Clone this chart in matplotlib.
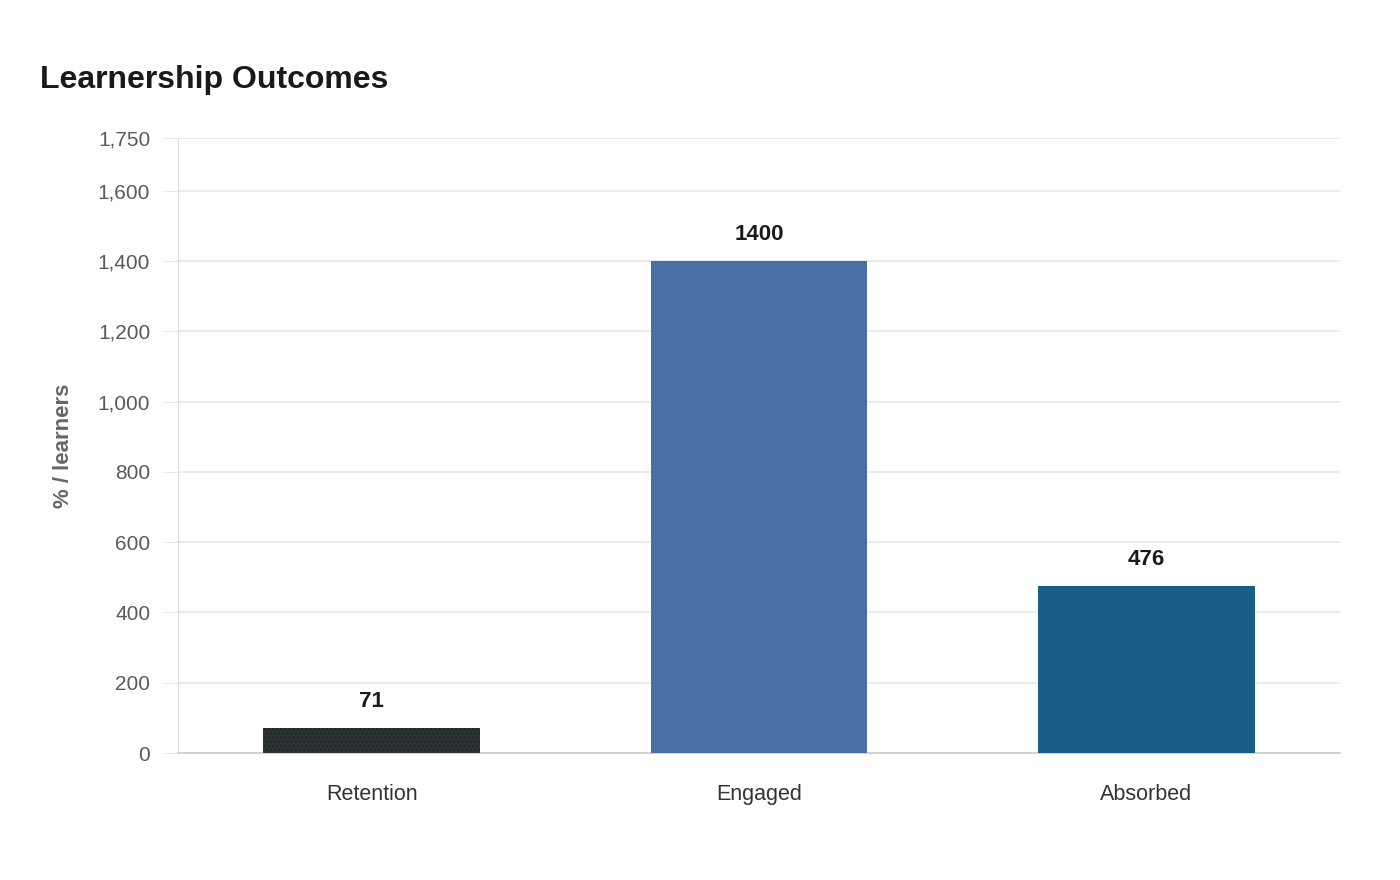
import matplotlib.pyplot as plt

plt.rcParams['font.family'] = ['Liberation Sans', 'DejaVu Sans']

categories = ["Retention", "Engaged", "Absorbed"]
values = [71, 1400, 476]
colors = ["#2e3336", "#4a6fa5", "#175f87"]
yticks = [0, 200, 400, 600, 800, 1000, 1200, 1400, 1600, 1750]

fig = plt.figure(figsize=(14, 8.8), dpi=100)
ax = fig.add_axes([178 / 1400, 127 / 880, 1162 / 1400, 615 / 880])

x = list(range(len(categories)))
bars = ax.bar(x, values, width=0.56, color=colors, edgecolor="none", zorder=3)
# dotted texture on the first bar
bars[0].set_hatch("....")
bars[0].set_edgecolor("#1f2325")
bars[0].set_linewidth(0)

for xi, v in zip(x, values):
    ax.text(xi, v + 45, str(v), ha="center", va="bottom", fontsize=16,
            fontweight="bold", color="#1a1a1a")

ax.set_xlim(-0.5, 2.5)
ax.set_ylim(0, 1750)
ax.set_yticks(yticks)
ax.set_yticklabels([f"{t:,}" for t in yticks])
ax.set_xticks(x)
ax.set_xticklabels(categories)
ax.grid(axis="y", color="#e8e8e8", linewidth=1.2, zorder=0)
ax.tick_params(axis="y", length=11, color="#e8e8e8", labelsize=15,
               labelcolor="#5a5a5a", pad=9)
ax.tick_params(axis="x", length=0, labelsize=15.5, labelcolor="#333333", pad=22)

for s in ["top", "right"]:
    ax.spines[s].set_visible(False)
ax.spines["left"].set_color("#dddddd")
ax.spines["bottom"].set_color("#cccccc")
ax.spines["bottom"].set_linewidth(1.2)

ax.set_ylabel("% / learners", fontsize=16, fontweight="bold", color="#666666",
              labelpad=17)
fig.text(40 / 1400, 1 - 80 / 880, "Learnership Outcomes", fontsize=23,
         fontweight="bold", color="#1a1a1a", va="center", ha="left")

fig.savefig("out.png", dpi=100, facecolor="white")
